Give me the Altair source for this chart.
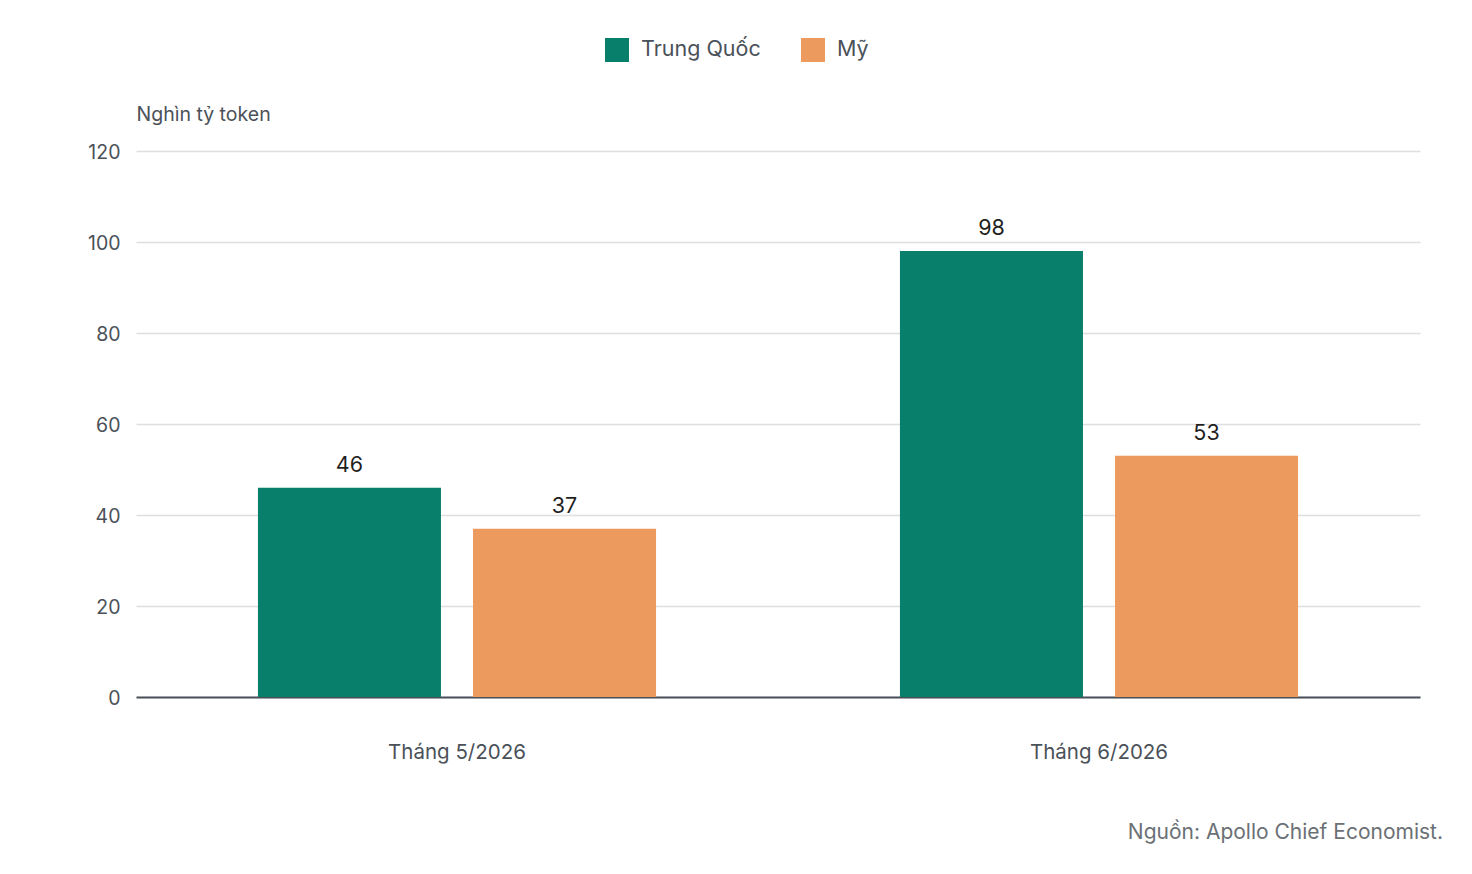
import altair as alt
import pandas as pd

months = ["Tháng 5/2026", "Tháng 6/2026"]
series = ["Trung Quốc", "Mỹ"]
china = [46, 98]
us = [37, 53]
colors = ["#087F6A", "#ED9A5E"]
y_ticks = [0, 20, 40, 60, 80, 100, 120]
source_text = "Nguồn: Apollo Chief Economist."
y_title = "Nghìn tỷ token"

rows = []
for i, m in enumerate(months):
    rows.append({"month": m, "series": series[0], "value": china[i]})
    rows.append({"month": m, "series": series[1], "value": us[i]})
df = pd.DataFrame(rows)

FONT = "Inter"
W, H = 1284, 546

x_enc = alt.X("month:N", sort=months, scale=alt.Scale(paddingInner=0, paddingOuter=0),
              axis=alt.Axis(title=None, labelAngle=0, labelFontSize=20.5, labelColor="#4b5158",
                            labelPadding=45, ticks=False, domain=True, domainColor="#4b5158",
                            domainWidth=2, labelFont=FONT))
xo_enc = alt.XOffset("series:N", sort=series,
                     scale=alt.Scale(domain=series, paddingInner=0.149, paddingOuter=0.567))
y_scale = alt.Scale(domain=[0, 120], nice=False)

bars = alt.Chart(df).mark_bar().encode(
    x=x_enc,
    xOffset=xo_enc,
    y=alt.Y("value:Q", scale=y_scale,
            axis=alt.Axis(values=y_ticks, title=y_title, titleAngle=0, titleX=0, titleY=-37,
                          titleAlign="left", titleBaseline="middle", titleFontSize=19.5,
                          titleFontWeight="normal", titleColor="#4b5158", titleFont=FONT,
                          labelFontSize=19.5, labelColor="#4b5158", labelPadding=16, labelFont=FONT,
                          labelOffset=1.5,
                          ticks=False, domain=False, grid=True, gridColor="#dedede", gridWidth=1.5)),
    color=alt.Color("series:N", sort=series,
                    scale=alt.Scale(domain=series, range=colors),
                    legend=alt.Legend(title=None, orient="none", direction="horizontal",
                                      legendX=469, legendY=-113, symbolType="square",
                                      symbolSize=576, symbolStrokeWidth=0, labelFontSize=21.5,
                                      labelColor="#4b5158", labelFont=FONT, labelOffset=12,
                                      columnPadding=40, symbolOpacity=1)),
)

labels = alt.Chart(df).mark_text(baseline="bottom", dy=-11, fontSize=21.5, color="#1f1f1f",
                                 font=FONT).encode(
    x=alt.X("month:N", sort=months),
    xOffset=alt.XOffset("series:N", sort=series),
    y=alt.Y("value:Q"),
    text=alt.Text("value:Q"),
)

src = alt.Chart(pd.DataFrame({"t": [source_text]})).mark_text(
    align="right", baseline="middle", fontSize=21, color="#6b7075", font=FONT
).encode(x=alt.value(W + 23), y=alt.value(H + 136), text="t:N")

chart = alt.layer(bars, labels, src).properties(
    width=W, height=H,
    autosize=alt.AutoSizeParams(type="none"),
    padding={"left": 128, "top": 143, "right": 44, "bottom": 150},
).configure_view(stroke=None)

chart.save("out.html", embed_options={"renderer": "svg", "actions": False})
